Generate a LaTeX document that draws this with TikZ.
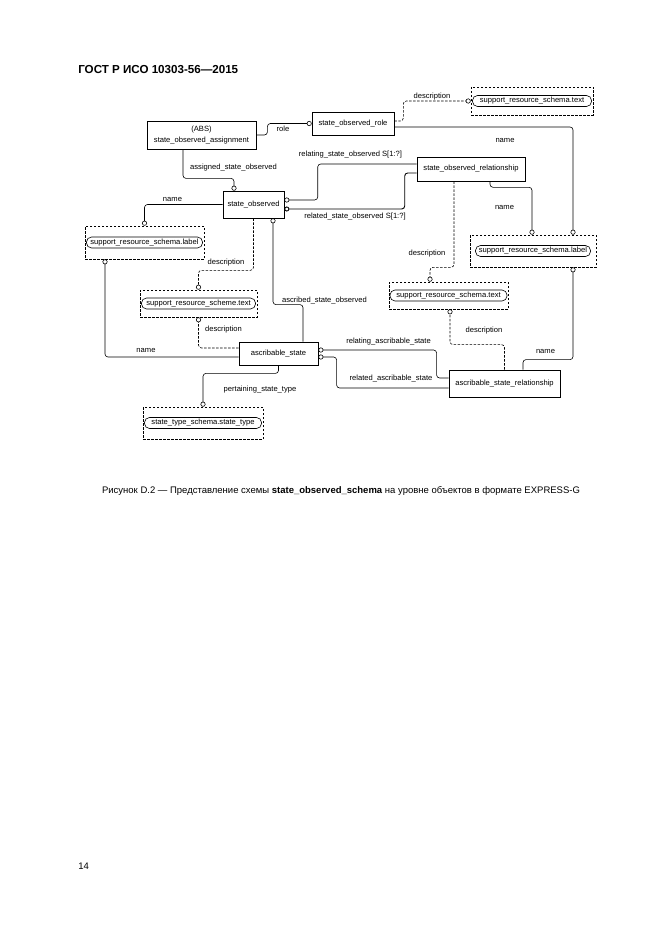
\documentclass[tikz,border=0pt]{standalone}
\usepackage{fontspec}
\setmainfont{Liberation Sans}
\usetikzlibrary{arrows.meta}

\begin{document}
\begin{tikzpicture}[x=1pt,y=-1pt,line width=0.6pt,rounded corners=3pt,
                    font=\fontsize{7.6}{9}\selectfont,
                    entity/.style={draw,sharp corners,inner sep=0pt},
                    typeref/.style={draw,sharp corners,dash pattern=on 2.5pt off 1.5pt,inner sep=0pt},
                    typename/.style={draw,rounded corners=5pt,inner sep=0pt,minimum height=11pt},
                    attr/.style={-{Circle[open,length=5pt,width=5pt]}},
                    opt/.style={attr,dash pattern=on 2.5pt off 1.5pt},
                    lbl/.style={inner sep=0pt}]

        \useasboundingbox (0,0) rectangle (661,936);

        % Page texts
        \node[lbl,anchor=west,font=\fontsize{11.6}{13}\selectfont\bfseries] (head) at (78,70) {ГОСТ Р ИСО 10303-56—2015};
        \node[lbl,anchor=west,font=\fontsize{9.5}{11}\selectfont] (page) at (78,866) {14};
        \node[lbl,font=\fontsize{9.5}{11}\selectfont] (caption) at (341,491)
            {Рисунок D.2 — Представление схемы \textbf{state\_observed\_schema} на уровне объектов в формате EXPRESS-G};

        % Entities
        \node[entity,thick,minimum width=109pt,minimum height=28pt,align=center,
              font=\fontsize{7.6}{11}\selectfont] (soa) at (201.5,135) {(ABS)\\state\_observed\_assignment};
        \node[entity,semithick,minimum width=82pt,minimum height=23pt] (sorole) at (353,123.5) {state\_observed\_role};
        \node[entity,minimum width=108pt,minimum height=24pt] (sorel) at (471,169) {state\_observed\_relationship};
        \node[entity,minimum width=61pt,minimum height=27pt] (so) at (253.5,204.5) {state\_observed};
        \node[entity,thick,minimum width=79pt,minimum height=23pt] (as) at (278.5,353.5) {ascribable\_state};
        \node[entity,thick,minimum width=111pt,minimum height=27pt] (asr) at (504.5,383.5) {ascribable\_state\_relationship};

        % Type references
        \node[typeref,minimum width=122pt,minimum height=28pt] (srt1) at (532,101) {};
        \node[typename,minimum width=119pt] (srt1-n) at (srt1) {support\_resource\_schema.text};
        \node[typeref,minimum width=119pt,minimum height=33pt] (srl1) at (144.5,242.5) {};
        \node[typename,minimum width=116pt] (srl1-n) at (srl1) {support\_resource\_schema.label};
        \node[typeref,minimum width=117pt,minimum height=27pt] (srt2) at (198.5,303.5) {};
        \node[typename,minimum width=114pt] (srt2-n) at (srt2) {support\_resource\_scheme.text};
        \node[typeref,minimum width=119pt,minimum height=27pt] (srt3) at (448.5,295.5) {};
        \node[typename,minimum width=117pt] (srt3-n) at (srt3) {support\_resource\_schema.text};
        \node[typeref,minimum width=126pt,minimum height=32pt] (srl2) at (533,251) {};
        \node[typename,minimum width=115pt] (srl2-n) at (srl2) {support\_resource\_schema.label};
        \node[typeref,minimum width=120pt,minimum height=32pt] (stt) at (203,423) {};
        \node[typename,minimum width=117pt] (stt-n) at (stt) {state\_type\_schema.state\_type};

        % Attributes
        \draw[attr] (soa.east) -- ++(11,0) |- (sorole.west);
        \draw[opt] ([yshift=2.5pt]sorole.east) -- ++(9,0) |- (srt1.west);
        \draw[attr] ([yshift=-3.5pt]sorole.east) -| ([xshift=40pt]srl2.north);
        \draw[attr] ([xshift=-18.5pt]soa.south) -- ++(0,29) -| ([xshift=-19.5pt]so.north);
        \draw[attr] ([yshift=5pt]sorel.west) -- ++(-99,0) |- ([yshift=4.5pt]so.east);
        \draw[attr,line width=0.9pt] ([yshift=-4pt]sorel.west) -- ++(-12,0) |- ([yshift=-4.5pt]so.east);
        \draw[attr] (so.west) -| (srl1.north);
        \draw[opt] (so.south) -- ++(0,52) -| (srt2.north);
        \draw[attr] ([xshift=24.5pt]as.north) -- ++(0,-37) -| ([xshift=19.5pt]so.south);
        \draw[attr] ([yshift=5.5pt]asr.west) -- ++(-12,0) |- ([yshift=3.5pt]as.east);
        \draw[attr] ([yshift=-4.5pt]asr.west) -- ++(-112,0) |- ([yshift=-3.5pt]as.east);
        \draw[attr] ([yshift=-3.5pt]as.west) -| ([xshift=-39.5pt]srl1.south);
        \draw[opt] ([yshift=5.5pt]as.west) -| (srt2.south);
        \draw[attr] (as.south) -- ++(0,8) -| (stt.north);
        \draw[opt] ([xshift=-17pt]sorel.south) -- ++(0,86) -| ([xshift=-18.5pt]srt3.north);
        \draw[attr] ([xshift=19pt]sorel.south) -- ++(0,6) -| ([xshift=-1pt]srl2.north);
        \draw[opt] (asr.north) -- ++(0,-25) -| ([xshift=1.5pt]srt3.south);
        \draw[attr] ([xshift=18.5pt]asr.north) -- ++(0,-10) -| ([xshift=40pt]srl2.south);

        % Attribute names
        \node[lbl] (l-role) at (283,129) {role};
        \node[lbl] (l-desc1) at (432,97) {description};
        \node[lbl] (l-name1) at (505,140) {name};
        \node[lbl] (l-assigned) at (233.5,168) {assigned\_state\_observed};
        \node[lbl] (l-relating1) at (350.5,155) {relating\_state\_observed S[1:?]};
        \node[lbl] (l-related1) at (355,217) {related\_state\_observed S[1:?]};
        \node[lbl] (l-name2) at (172.5,199) {name};
        \node[lbl] (l-desc2) at (226,263) {description};
        \node[lbl] (l-ascribed) at (324.5,300) {ascribed\_state\_observed};
        \node[lbl] (l-relating2) at (388.5,342) {relating\_ascribable\_state};
        \node[lbl] (l-related2) at (391,378) {related\_ascribable\_state};
        \node[lbl] (l-name3) at (146,350) {name};
        \node[lbl] (l-desc3) at (223.5,330) {description};
        \node[lbl] (l-pertaining) at (260,390) {pertaining\_state\_type};
        \node[lbl] (l-desc4) at (427,254) {description};
        \node[lbl] (l-name4) at (504.5,207) {name};
        \node[lbl] (l-desc5) at (484,331) {description};
        \node[lbl] (l-name5) at (545.5,351) {name};

\end{tikzpicture}
\end{document}
